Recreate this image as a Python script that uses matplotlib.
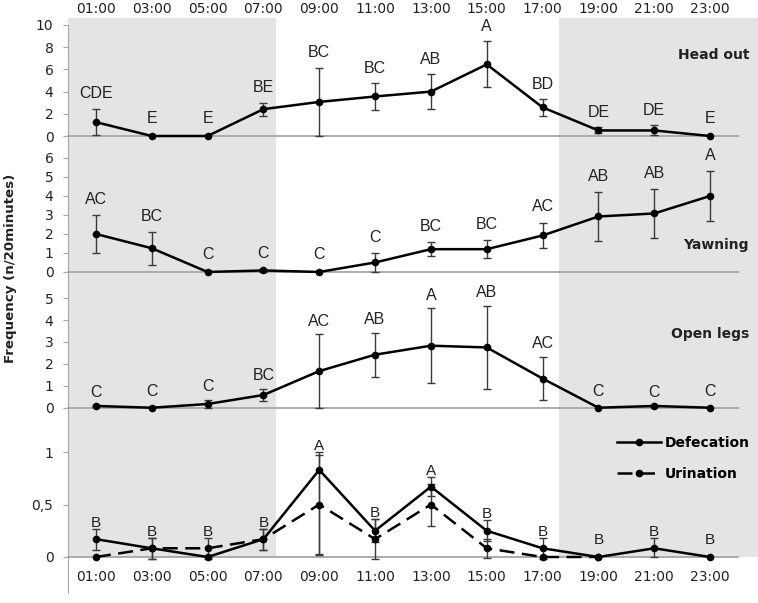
import numpy as np
import matplotlib
matplotlib.use("Agg")
import matplotlib.pyplot as plt
from matplotlib.lines import Line2D

hours = ["01:00", "03:00", "05:00", "07:00", "09:00", "11:00",
         "13:00", "15:00", "17:00", "19:00", "21:00", "23:00"]

head_out = [1.25, 0, 0, 2.42, 3.07, 3.56, 4.0, 6.45, 2.58, 0.5, 0.5, 0]
head_out_err = [1.2, 0, 0, 0.58, 3.07, 1.18, 1.58, 2.08, 0.75, 0.27, 0.45, 0]
head_out_grp = ["CDE", "E", "E", "BE", "BC", "BC", "AB", "A", "BD", "DE", "DE", "E"]

yawning = [2.0, 1.25, 0, 0.08, 0, 0.5, 1.2, 1.2, 1.92, 2.92, 3.08, 4.0]
yawning_err = [1.0, 0.87, 0, 0.08, 0, 0.5, 0.37, 0.47, 0.68, 1.28, 1.29, 1.3]
yawning_grp = ["AC", "BC", "C", "C", "C", "C", "BC", "BC", "AC", "AB", "AB", "A"]

open_legs = [0.08, 0, 0.17, 0.58, 1.67, 2.42, 2.83, 2.75, 1.33, 0, 0.08, 0]
open_legs_err = [0.05, 0, 0.2, 0.29, 1.7, 1.0, 1.7, 1.9, 1.0, 0, 0.05, 0]
open_legs_grp = ["C", "C", "C", "BC", "AC", "AB", "A", "AB", "AC", "C", "C", "C"]

defecation = [0.17, 0.083, 0, 0.17, 0.83, 0.25, 0.67, 0.25, 0.083, 0, 0.083, 0]
defecation_err_low = [0.1, 0.1, 0, 0.1, 0.81, 0.11, 0.09, 0.1, 0.1, 0, 0.083, 0]
defecation_err_high = [0.1, 0.1, 0, 0.1, 0.17, 0.11, 0.09, 0.1, 0.1, 0, 0.1, 0]
urination = [0, 0.083, 0.083, 0.17, 0.5, 0.17, 0.5, 0.083, 0, 0, np.nan, np.nan]
urination_err = [0, 0.1, 0.1, 0.1, 0.47, 0.19, 0.2, 0.09, 0, 0, np.nan, np.nan]
elim_grp = ["B", "B", "B", "B", "A", "B", "A", "B", "B", "B", "B", "B"]

plt.rcParams["font.family"] = ["DejaVu Sans"]

W, H = 758, 603
LEFT, RIGHT = 68, 738
SHADE = "#e4e4e4"
AXIS = "#a6a6a6"
ERR = "#3a3a3a"
x = np.arange(len(hours))

fig = plt.figure(figsize=(W / 100, H / 100), dpi=100)


def make_axes(top, bottom, ylim, ticks):
    ax = fig.add_axes([LEFT / W, 1 - bottom / H, (RIGHT - LEFT) / W, (bottom - top) / H])
    ax.set_facecolor("none")
    ax.set_xlim(-0.5, 11.5)
    ax.set_ylim(*ylim)
    ax.set_yticks(ticks)
    for s in ["top", "right", "bottom"]:
        ax.spines[s].set_visible(False)
    ax.spines["left"].set_color(AXIS)
    ax.tick_params(axis="y", length=3.5, color=AXIS, pad=7, labelsize=10, labelcolor="#222222")
    ax.tick_params(axis="x", length=0, labelsize=10, labelcolor="#222222",
                   bottom=False, labelbottom=False)
    ax.set_xticks(x)
    ax.set_xticklabels(hours)
    # night shading
    ax.axvspan(-0.5, 3.23, color=SHADE, lw=0, zorder=0)
    ax.axvspan(8.29, 11.86, color=SHADE, lw=0, zorder=0, clip_on=False)
    ax.axhline(0, color=AXIS, lw=1.3, zorder=1, clip_on=False)
    return ax


def draw_series(ax, vals, err_low, err_high, ls="-"):
    vals = np.array(vals, dtype=float)
    lo = np.array(err_low, dtype=float)
    hi = np.array(err_high, dtype=float)
    line = ax.plot(x, vals, color="black", lw=1.8, ls=ls, marker="o", ms=4.5,
                   zorder=4, clip_on=False)[0]
    if ls != "-":
        line.set_dashes((6, 3))
    m = np.nan_to_num(hi) > 0
    ax.errorbar(x[m], vals[m], yerr=[lo[m], hi[m]], fmt="none", ecolor=ERR,
                elinewidth=1, capsize=3, capthick=1, zorder=3, clip_on=False)
    return line


def add_letters(ax, tops, errs, groups, off, zero_off, size):
    for i, (t, e, g) in enumerate(zip(tops, errs, groups)):
        dy = off if e > 0 else zero_off
        ax.annotate(g, (i, t), xytext=(0, dy), textcoords="offset points",
                    ha="center", va="baseline", fontsize=size,
                    family=["Liberation Sans", "DejaVu Sans"], color="#222222")


# Head out
ax1 = make_axes(18, 146, (-0.9, 10.63), [0, 2, 4, 6, 8, 10])
ax1.spines["left"].set_bounds(-0.9, 10)
ax1.tick_params(axis="x", top=False, labeltop=True, pad=1.5)
draw_series(ax1, head_out, head_out_err, head_out_err)
add_letters(ax1, np.add(head_out, head_out_err), head_out_err, head_out_grp, 7.5, 9.5, 11.5)

# Yawning
ax2 = make_axes(146, 283, (-0.58, 6.63), [0, 1, 2, 3, 4, 5, 6])
draw_series(ax2, yawning, yawning_err, yawning_err)
add_letters(ax2, np.add(yawning, yawning_err), yawning_err, yawning_grp, 8, 9.5, 11.5)

# Open legs
ax3 = make_axes(283, 420, (-0.56, 5.69), [0, 1, 2, 3, 4, 5])
draw_series(ax3, open_legs, open_legs_err, open_legs_err)
add_letters(ax3, np.add(open_legs, open_legs_err), open_legs_err, open_legs_grp, 6, 8.5, 11.5)

# Defecation / urination
ax4 = make_axes(420, 557, (0, 1.305), [0, 0.5, 1])
ax4.set_yticklabels(["0", "0,5", "1"])
ax4.tick_params(axis="x", labelbottom=True, pad=9.5)
d_line = draw_series(ax4, defecation, defecation_err_low, defecation_err_high)
u_line = draw_series(ax4, urination, urination_err, urination_err, ls="--")
tops = np.fmax(np.add(defecation, defecation_err_high),
               np.nan_to_num(np.add(urination, urination_err)))
add_letters(ax4, tops, tops, elim_grp, 1.5, 9, 11)

fig.add_artist(Line2D([LEFT / W, LEFT / W], [1 - 557 / H, 1 - 593 / H],
                      color=AXIS, lw=0.8))

leg = ax4.legend([d_line, u_line], ["Defecation", "Urination"], frameon=False,
                 loc="upper left", bbox_to_anchor=(617 / W, 1 - 436 / H),
                 bbox_transform=fig.transFigure, borderpad=0, borderaxespad=0,
                 handlelength=3.2, handletextpad=0.25, labelspacing=1.2,
                 prop={"weight": "bold", "size": 10})

for label, yc in [("Head out", 55), ("Yawning", 245), ("Open legs", 334)]:
    fig.text(749 / W, 1 - yc / H, label, ha="right", va="center",
             fontsize=10, fontweight="bold", color="#222222")

fig.text(11 / W, 1 - 268 / H, "Frequency (n/20minutes)", rotation=90,
         ha="center", va="center", fontsize=9.6, fontweight="bold", color="#222222")

fig.savefig("out.png", dpi=100)
